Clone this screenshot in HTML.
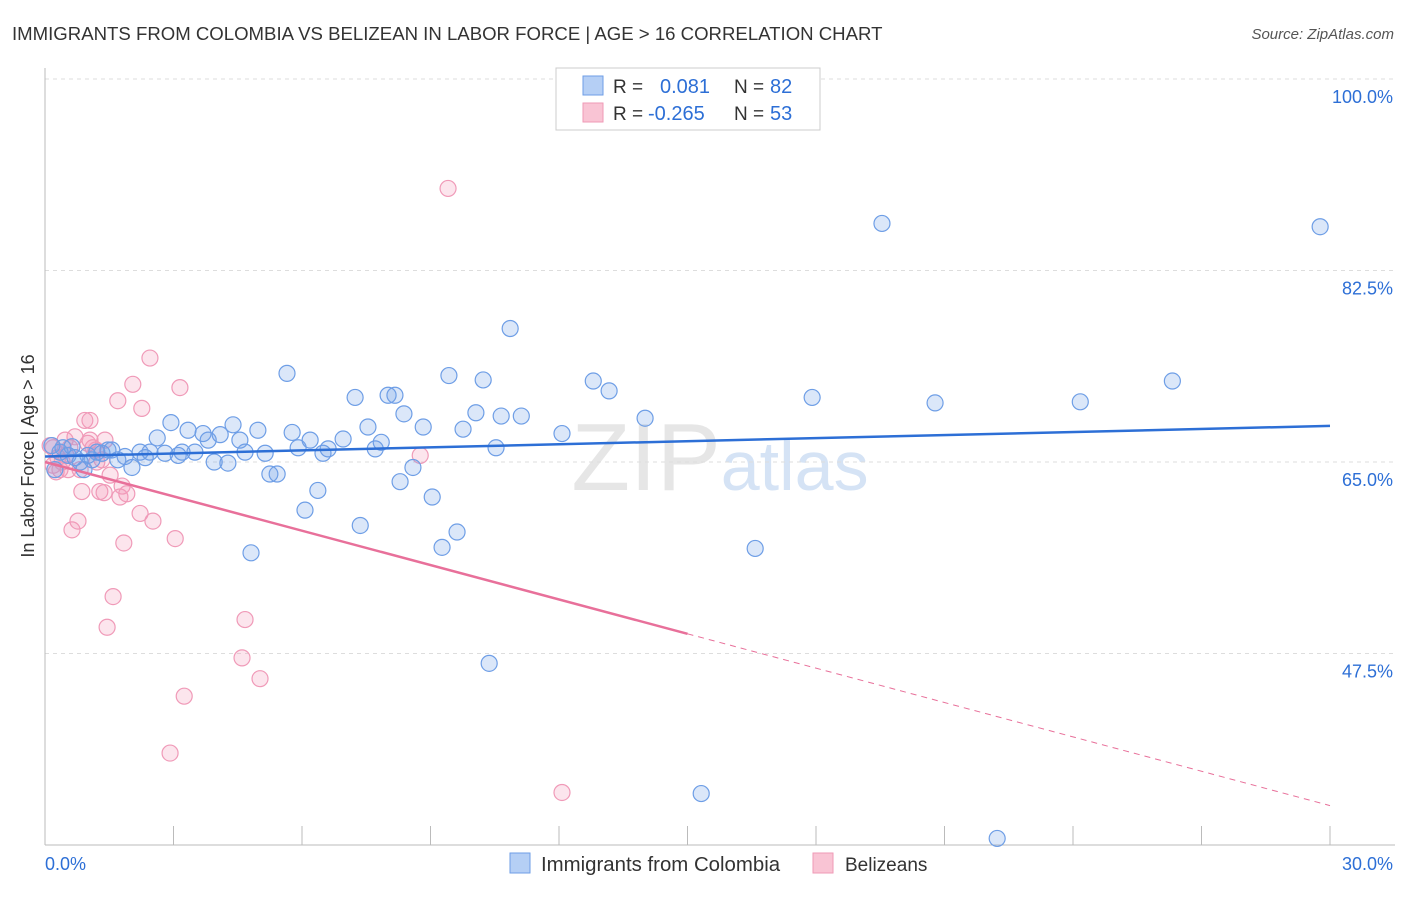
<!DOCTYPE html>
<html><head><meta charset="utf-8"><style>
body{margin:0;background:#fff;font-family:"Liberation Sans",sans-serif}
svg text{font-family:"Liberation Sans",sans-serif}
</style></head><body>
<svg id="chart" width="1406" height="892">
<text x="12" y="40" font-size="18.6" fill="#333">IMMIGRANTS FROM COLOMBIA VS BELIZEAN IN LABOR FORCE | AGE &gt; 16 CORRELATION CHART</text>
<text x="1394" y="39" font-size="15" fill="#555" font-style="italic" text-anchor="end">Source: ZipAtlas.com</text>
<text x="720" y="490" font-size="96" fill="#e6e6e6" text-anchor="middle" font-family="Liberation Serif">ZIP<tspan fill="#d5e3f5" font-family="Liberation Sans" font-size="70">atlas</tspan></text>
<g id="grid"></g>
<g id="marks"></g>
<text transform="translate(34,456) rotate(-90)" font-size="18" fill="#333" text-anchor="middle">In Labor Force | Age &gt; 16</text>
<g>
<rect x="556" y="68" width="264" height="62" fill="#fff" stroke="#ccc"/>
<rect x="583" y="76" width="20" height="19" fill="#b5cff5" stroke="#6e9ee6"/>
<rect x="583" y="103" width="20" height="19" fill="#f9c4d4" stroke="#ef9ab6"/>
<text x="613" y="93" font-size="19" fill="#333">R = </text><text x="660" y="93" font-size="20" fill="#2d6fd6">0.081</text>
<text x="734" y="93" font-size="19" fill="#333">N = </text><text x="770" y="93" font-size="20" fill="#2d6fd6">82</text>
<text x="613" y="120" font-size="19" fill="#333">R = </text><text x="648" y="120" font-size="20" fill="#2d6fd6">-0.265</text>
<text x="734" y="120" font-size="19" fill="#333">N = </text><text x="770" y="120" font-size="20" fill="#2d6fd6">53</text>
</g>
<g>
<rect x="510" y="853" width="20" height="20" fill="#b5cff5" stroke="#6e9ee6"/>
<text x="541" y="871" font-size="20.4" fill="#333">Immigrants from Colombia</text>
<rect x="813" y="853" width="20" height="20" fill="#f9c4d4" stroke="#ef9ab6"/>
<text x="845" y="871" font-size="19" fill="#333">Belizeans</text>
</g>
</svg>
<script>
const yTicks=[100,82.5,65,47.5];
const yTickLabels=["100.0%","82.5%","65.0%","47.5%"];
const xTicks=[0,3,6,9,12,15,18,21,24,27,30];
const xEndLabels=["0.0%","30.0%"];
const blueX=[.16,.23,.35,.42,.54,.63,.70,.82,.91,1.00,1.10,1.21,1.33,1.47,1.56,1.70,1.87,2.03,2.22,2.34,2.45,2.62,2.80,2.94,3.11,3.20,3.34,3.50,3.69,3.81,3.95,4.09,4.27,4.39,4.55,4.67,4.81,4.97,5.14,5.25,5.42,5.65,5.77,5.91,6.07,6.19,6.37,6.49,6.61,6.96,7.24,7.36,7.54,7.71,7.85,8.01,8.17,8.29,8.38,8.59,8.83,9.04,9.27,9.43,9.62,9.76,10.06,10.23,10.37,10.53,10.65,10.86,11.12,12.07,12.80,13.17,14.01,15.32,16.58,17.91,19.54,20.78,22.23,24.17,26.32,29.77];
const blueY=[66.5,64.3,65.9,66.3,65.6,66.4,65.4,65.0,64.3,65.6,65.2,65.9,65.8,66.1,66.1,65.2,65.5,64.5,65.9,65.4,65.9,67.2,65.8,68.6,65.6,65.9,67.9,65.9,67.6,67.0,65.0,67.5,64.9,68.4,67.0,65.9,56.7,67.9,65.8,63.9,63.9,73.1,67.7,66.3,60.6,67.0,62.4,65.8,66.2,67.1,70.9,59.2,68.2,66.2,66.8,71.1,71.1,63.2,69.4,64.5,68.2,61.8,57.2,72.9,58.6,68.0,69.5,72.5,46.6,66.3,69.2,77.2,69.2,67.6,72.4,71.5,69.0,34.7,57.1,70.9,86.8,70.4,30.6,70.5,72.4,86.5];
const pinkX=[.12,.19,.26,.30,.40,.49,.58,.63,.70,.77,.82,.86,.93,1.00,1.05,1.12,1.21,1.28,1.33,1.38,1.45,1.52,1.59,1.70,1.75,1.80,1.84,1.91,2.05,2.22,2.26,2.45,2.52,3.04,3.15,3.25,2.92,4.60,4.67,5.02,8.76,9.41,12.07,.19,.35,.47,1.05,1.19,1.40,.54];
const pinkY=[66.5,64.7,64.1,65.4,65.0,65.6,66.3,58.8,67.3,59.6,64.3,62.3,68.8,66.7,68.8,66.3,65.0,62.3,65.2,62.2,49.9,63.8,52.7,70.6,61.8,62.8,57.6,62.1,72.1,60.3,69.9,74.5,59.6,58.0,71.8,43.6,38.4,47.1,50.6,45.2,65.6,90.0,34.8,66.3,64.3,67.0,67.0,66.1,67.0,64.3];
const blueTrend=[65.5,68.3];
const pinkTrend=[65.0,33.6];
const pinkSolidEnd=15;

const NS="http://www.w3.org/2000/svg";
const X0=45,X1=1330,Y0=79,YB=845;
const sx=v=>X0+v/30*(X1-X0);
const sy=v=>Y0+(100-v)/100*((YB-Y0)/0.7);
function mk(tag,attrs,parent){const e=document.createElementNS(NS,tag);for(const k in attrs)e.setAttribute(k,attrs[k]);parent.appendChild(e);return e;}
const grid=document.getElementById('grid'),marks=document.getElementById('marks');
yTicks.forEach((t,i)=>{
 const g=mk('line',{x1:X0,x2:1395,y1:sy(t),y2:sy(t),stroke:'#ddd','stroke-dasharray':'4,4'},grid);
 
 
 const tx=mk('text',{x:1393,y:sy(t)+24,'font-size':18,fill:'#2d6fd6','text-anchor':'end'},grid);
 tx.textContent=yTickLabels[i];
 
 
});
const ax=mk('line',{x1:X0,x2:X0,y1:68,y2:YB,stroke:'#bbb'},grid);


const bx=mk('line',{x1:X0,x2:1395,y1:YB,y2:YB,stroke:'#bbb'},grid);


xTicks.forEach(t=>{
 const l=mk('line',{x1:sx(t),x2:sx(t),y1:826,y2:YB,stroke:'#bbb'},grid);
 
 
});
const xl0=mk('text',{x:45,y:870,'font-size':18,fill:'#2d6fd6'},grid);xl0.textContent=xEndLabels[0];


const xl1=mk('text',{x:1393,y:870,'font-size':18,fill:'#2d6fd6','text-anchor':'end'},grid);xl1.textContent=xEndLabels[1];



pinkX.forEach((x,i)=>{
 const c=mk('circle',{cx:sx(x),cy:sy(pinkY[i]),r:8,fill:'rgba(244,150,182,0.25)',stroke:'#f09ab8','stroke-width':1.2},marks);
 
 
});
blueX.forEach((x,i)=>{
 const c=mk('circle',{cx:sx(x),cy:sy(blueY[i]),r:8,fill:'rgba(110,158,230,0.25)',stroke:'#6e9ee6','stroke-width':1.2},marks);
 
 
});
const bl=mk('line',{x1:sx(0),y1:sy(blueTrend[0]),x2:sx(30),y2:sy(blueTrend[1]),stroke:'#2d6fd6','stroke-width':2.5},marks);


const pAt=x=>pinkTrend[0]+(pinkTrend[1]-pinkTrend[0])*x/30;
const pl=mk('line',{x1:sx(0),y1:sy(pAt(0)),x2:sx(pinkSolidEnd),y2:sy(pAt(pinkSolidEnd)),stroke:'#e8709a','stroke-width':2.5},marks);


const pd=mk('line',{x1:sx(pinkSolidEnd),y1:sy(pAt(pinkSolidEnd)),x2:sx(30),y2:sy(pAt(30)),stroke:'#e8709a','stroke-width':1,'stroke-dasharray':'6,5'},marks);


</script>
</body></html>
